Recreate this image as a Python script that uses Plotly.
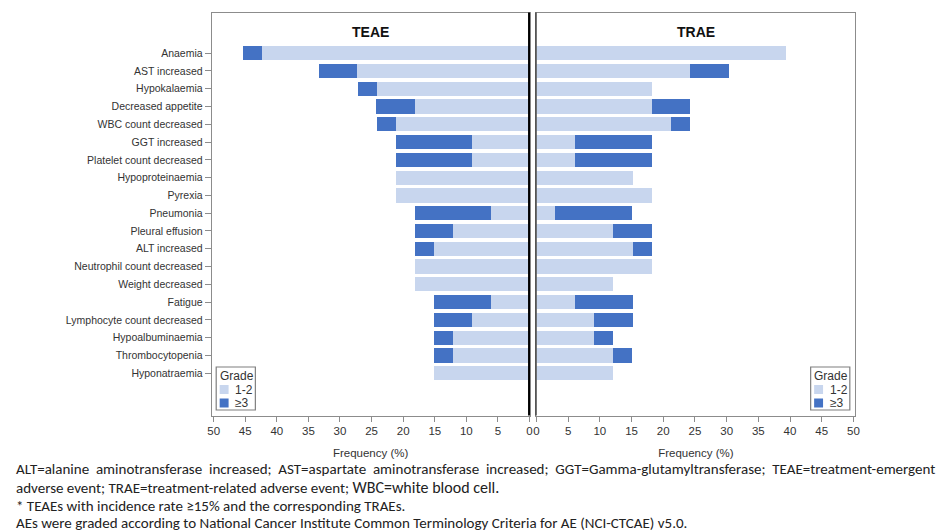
import plotly.graph_objects as go

categories = ["Anaemia", "AST increased", "Hypokalaemia", "Decreased appetite",
              "WBC count decreased", "GGT increased", "Platelet count decreased",
              "Hypoproteinaemia", "Pyrexia", "Pneumonia", "Pleural effusion",
              "ALT increased", "Neutrophil count decreased", "Weight decreased",
              "Fatigue", "Lymphocyte count decreased", "Hypoalbuminaemia",
              "Thrombocytopenia", "Hyponatraemia"]

teae_g12 = [42.4, 27.3, 24.2, 18.2, 21.2, 9.1, 9.1, 21.2, 21.2, 6.1, 12.1, 15.2,
            18.2, 18.2, 6.1, 9.1, 12.1, 12.1, 15.2]
teae_g3 = [3.0, 6.1, 3.0, 6.1, 3.0, 12.1, 12.1, 0, 0, 12.1, 6.1, 3.0,
           0, 0, 9.1, 6.1, 3.0, 3.0, 0]
trae_g12 = [39.4, 24.2, 18.2, 18.2, 21.2, 6.1, 6.1, 15.2, 18.2, 3.0, 12.1, 15.2,
            18.2, 12.1, 6.1, 9.1, 9.1, 12.1, 12.1]
trae_g3 = [0, 6.1, 0, 6.1, 3.0, 12.1, 12.1, 0, 0, 12.1, 6.1, 3.0,
           0, 0, 9.1, 6.1, 3.0, 3.0, 0]

x_ticks = [0, 5, 10, 15, 20, 25, 30, 35, 40, 45, 50]
grade_labels = ["1-2", "\u22653"]
legend_title = "Grade"
panel_titles = ["TEAE", "TRAE"]
NB = "\u00a0"
line1_words = ["ALT=alanine", "aminotransferase", "increased;", "AST=aspartate",
               "aminotransferase", "increased;", "GGT=Gamma-glutamyltransferase;",
               "TEAE=treatment-emergent"]
footnotes = [
    (" " + NB).join(line1_words),
    "adverse event; TRAE=treatment-related adverse event; <span style=\"font-size:16px\">WBC=white blood cell.</span>",
    "* TEAEs with incidence rate \u226515% and the corresponding TRAEs.",
    "AEs were graded according to National Cancer Institute Common Terminology Criteria for AE (NCI-CTCAE) v5.0.",
]

LIGHT = "#c8d6ee"
DARK = "#4472c4"
COLORS = [LIGHT, DARK]
W, H = 951, 532

fig = go.Figure()
for (g12, g3, xa, ya) in [(teae_g12, teae_g3, "x", "y"),
                          (trae_g12, trae_g3, "x2", "y2")]:
    fig.add_trace(go.Bar(y=categories, x=g12, orientation="h", name=grade_labels[0],
                         marker=dict(color=LIGHT, line=dict(width=0)), width=0.8,
                         xaxis=xa, yaxis=ya, showlegend=False))
    fig.add_trace(go.Bar(y=categories, x=g3, orientation="h", name=grade_labels[1],
                         marker=dict(color=DARK, line=dict(width=0)), width=0.8,
                         xaxis=xa, yaxis=ya, showlegend=False))

xl = (209.5 / W, 530.0 / W)
xr = (537.0 / W, 858.5 / W)
yd = (1 - 415.5 / H, 1 - 12.5 / H)
yrange = [20.38, -2.29]

tickfont = dict(family="Liberation Sans Narrow, Arial Narrow, Liberation Sans, Arial", size=11.5, color="#333333")
axis_common = dict(showgrid=False, zeroline=False, showline=True, mirror=True,
                   linecolor="#8c8c8c", linewidth=1, ticks="outside", ticklen=5,
                   tickcolor="#8c8c8c", tickvals=x_ticks, tickfont=tickfont,
                   title=dict(text="Frequency (%)", font=dict(family="Liberation Sans Narrow, Arial Narrow, Liberation Sans", size=11.5, color="#333333"), standoff=12))

fig.update_layout(
    width=W, height=H, barmode="stack", bargap=0.2,
    margin=dict(l=0, r=0, t=0, b=0),
    paper_bgcolor="white", plot_bgcolor="white",
    xaxis=dict(domain=list(xl), range=[50.3, 0], anchor="y", **axis_common),
    xaxis2=dict(domain=list(xr), range=[0, 50.3], anchor="y2", **axis_common),
    yaxis=dict(domain=list(yd), anchor="x", type="category", categoryorder="array",
               categoryarray=categories, range=yrange, showgrid=False, zeroline=False,
               showline=True, mirror=True, linecolor="#8c8c8c", ticks="outside",
               ticklen=6, tickcolor="#8c8c8c",
               tickfont=dict(family="Liberation Sans, Arial", size=10.5, color="#333333")),
    yaxis2=dict(domain=list(yd), anchor="x2", type="category", categoryorder="array",
                categoryarray=categories, range=yrange, showgrid=False, zeroline=False,
                showline=True, mirror=True, linecolor="#8c8c8c", showticklabels=False,
                ticks=""),
    showlegend=False,
)

# panel separator lines
fig.add_shape(type="line", xref="paper", yref="paper", x0=529.5 / W, x1=529.5 / W,
              y0=yd[0], y1=yd[1], line=dict(color="black", width=2))
fig.add_shape(type="line", xref="paper", yref="paper", x0=536.5 / W, x1=536.5 / W,
              y0=yd[0], y1=yd[1], line=dict(color="#444444", width=1.5))


def px(x):
    return x / W


def py(y):
    return 1 - y / H


# compact boxed legends (one per panel)
LEG_FONT = dict(family="Liberation Sans, Arial", size=12, color="#333333")
for bx in [214.0, 813.5]:
    fig.add_shape(type="rect", xref="paper", yref="paper", x0=px(bx), x1=px(bx + 39.5),
                  y0=py(410), y1=py(367), line=dict(color="#7f7f7f", width=1.2),
                  fillcolor="white", layer="above")
    fig.add_annotation(text=legend_title, x=px(bx + 1.5), y=py(375.5), xref="paper", yref="paper",
                       xanchor="left", yanchor="middle", showarrow=False, font=LEG_FONT)
    for i, (lab, col) in enumerate(zip(grade_labels, COLORS)):
        cy = 389.5 + 13.5 * i
        fig.add_shape(type="rect", xref="paper", yref="paper", x0=px(bx + 3.5), x1=px(bx + 12.5),
                      y0=py(cy + 4.5), y1=py(cy - 4.5), line=dict(width=0), fillcolor=col,
                      layer="above")
        fig.add_annotation(text=lab, x=px(bx + 17), y=py(cy), xref="paper", yref="paper",
                           xanchor="left", yanchor="middle", showarrow=False, font=LEG_FONT)

# panel titles
for title, (a, b) in zip(panel_titles, [xl, xr]):
    fig.add_annotation(text="<b>" + title + "</b>", x=(a + b) / 2, y=py(31.5),
                       xref="paper", yref="paper", showarrow=False,
                       xanchor="center", yanchor="middle",
                       font=dict(family="Liberation Sans, Arial", size=14, color="#111111"))

# footnotes
foot_y = [469, 487, 506, 523]
for txt, yy in zip(footnotes, foot_y):
    fig.add_annotation(text=txt, x=px(10), y=py(yy), xref="paper", yref="paper",
                       xanchor="left", yanchor="middle", showarrow=False, align="left",
                       font=dict(family="Carlito, Liberation Sans Narrow, Liberation Sans", size=15, color="#222222"))

fig.write_html("out.html", config={"displayModeBar": False},
               post_script="document.body.style.margin='0px';document.body.style.padding='0px';")
